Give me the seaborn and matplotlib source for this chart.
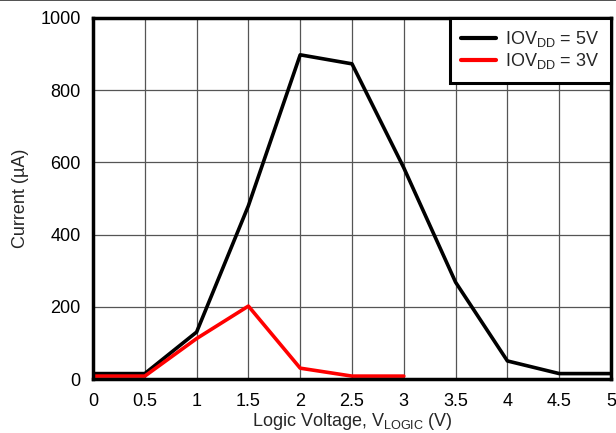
import matplotlib
matplotlib.use("Agg")
import matplotlib.pyplot as plt
import seaborn as sns
import pandas as pd
from matplotlib.lines import Line2D

x_5v = [0, 0.5, 1, 1.5, 2, 2.5, 3, 3.5, 4, 4.5, 5]
y_5v = [15, 15, 130, 480, 898, 873, 585, 268, 50, 15, 15]
x_3v = [0, 0.5, 1, 1.5, 2, 2.5, 3]
y_3v = [8, 8, 112, 202, 30, 8, 8]
labels = [r'IOV$_{\mathregular{DD}}$ = 5V', r'IOV$_{\mathregular{DD}}$ = 3V']
xticks = [0, 0.5, 1, 1.5, 2, 2.5, 3, 3.5, 4, 4.5, 5]
xticklabels = ['0', '0.5', '1', '1.5', '2', '2.5', '3', '3.5', '4', '4.5', '5']
yticks = [0, 200, 400, 600, 800, 1000]

df = pd.concat([
    pd.DataFrame({'x': x_5v, 'y': y_5v, 'series': labels[0]}),
    pd.DataFrame({'x': x_3v, 'y': y_3v, 'series': labels[1]}),
])

sns.set_style('white')
plt.rcParams['font.family'] = ['Liberation Sans', 'DejaVu Sans']
plt.rcParams['mathtext.fontset'] = 'custom'
plt.rcParams['mathtext.rm'] = 'Liberation Sans'
plt.rcParams['mathtext.it'] = 'Liberation Sans'

FS = 13

fig = plt.figure(figsize=(6.16, 4.33), dpi=100)
ax = fig.add_axes([93/616, 1-379/433, (611-93)/616, (379-18)/433])

sns.lineplot(data=df, x='x', y='y', hue='series', palette=['black', '#ff0000'],
             linewidth=2.6, ax=ax, sort=False)

ax.set_xlim(0, 5)
ax.set_ylim(0, 1000)
ax.set_xticks(xticks)
ax.set_xticklabels(xticklabels)
ax.set_yticks(yticks)
ax.grid(True, color='#555555', linewidth=0.9)
ax.set_axisbelow(True)
for s in ax.spines.values():
    s.set_visible(True)
    s.set_color('black')
    s.set_linewidth(2.5)
ax.tick_params(axis='both', labelsize=FS, length=0, colors='black')
ax.tick_params(axis='x', pad=10)
ax.tick_params(axis='y', pad=9)
ax.set_xlabel(r'Logic Voltage, V$_{\mathregular{LOGIC}}$ (V)', fontsize=FS, labelpad=1)
ax.set_ylabel('Current (µA)', fontsize=FS, labelpad=8)

leg = ax.legend(loc='upper right', fontsize=FS, frameon=True, fancybox=False,
                borderaxespad=0.0, handlelength=1.95, handletextpad=0.5,
                labelspacing=0.12, borderpad=0.62)
leg.get_frame().set_edgecolor('black')
leg.get_frame().set_linewidth(2.2)
leg.get_frame().set_alpha(1)
leg.set_title(None)
for h in leg.get_lines():
    h.set_linewidth(3)

fig.add_artist(Line2D([0, 1], [0.999, 0.999], color='#333333', linewidth=1.2,
                      transform=fig.transFigure))

fig.savefig('out.png', dpi=100)
